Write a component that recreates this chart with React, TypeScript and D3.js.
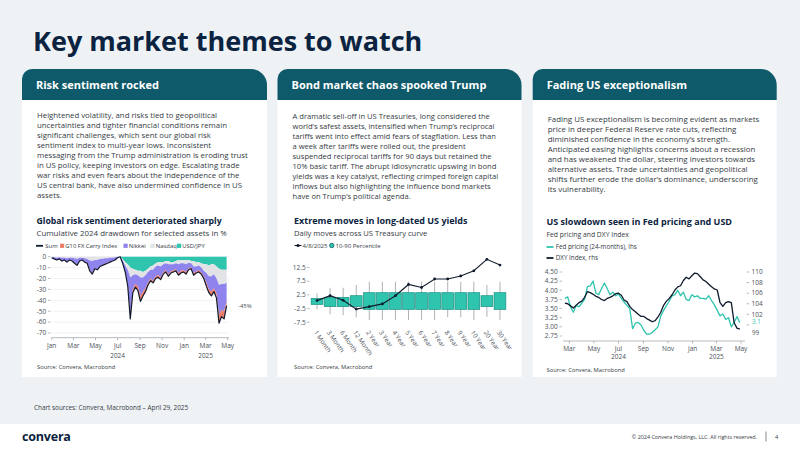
import React from "react";
import * as d3 from "d3";

const FONT = "'Open Sans', 'Noto Sans', Arial, sans-serif";
const NAVY = "#0b2340";
const HEADER_FILL = "#0f5a6a";
const BODY_TEXT = "#353b43";
const TICK_TEXT = "#4b5058";
const LINE_DARK = "#0f1b2d";
const TEAL = "#2ec4ae";
const PURPLE = "#8f83ee";
const SALMON = "#ec7d6c";
const LIGHT_GRAY = "#e2e3e6";

// ---- card copy ----
const cardTitles = ["Risk sentiment rocked", "Bond market chaos spooked Trump", "Fading US exceptionalism"];

const riskCopy = [
  "Heightened volatility, and risks tied to geopolitical",
  "uncertainties and tighter financial conditions remain",
  "significant challenges, which sent our global risk",
  "sentiment index to multi-year lows. Inconsistent",
  "messaging from the Trump administration is eroding trust",
  "in US policy, keeping investors on edge. Escalating trade",
  "war risks and even fears about the independence of the",
  "US central bank, have also undermined confidence in US",
  "assets.",
];

const bondCopy = [
  "A dramatic sell-off in US Treasuries, long considered the",
  "world\u2019s safest assets, intensified when Trump\u2019s reciprocal",
  "tariffs went into effect amid fears of stagflation. Less than",
  "a week after tariffs were rolled out, the president",
  "suspended reciprocal tariffs for 90 days but retained the",
  "10% basic tariff. The abrupt idiosyncratic upswing in bond",
  "yields was a key catalyst, reflecting crimped foreign capital",
  "inflows but also highlighting the influence bond markets",
  "have on Trump\u2019s political agenda.",
];

const fadingCopy = [
  "Fading US exceptionalism is becoming evident as markets",
  "price in deeper Federal Reserve rate cuts, reflecting",
  "diminished confidence in the economy\u2019s strength.",
  "Anticipated easing highlights concerns about a recession",
  "and has weakened the dollar, steering investors towards",
  "alternative assets. Trade uncertainties and geopolitical",
  "shifts further erode the dollar\u2019s dominance, underscoring",
  "its vulnerability.",
];

// ---- risk sentiment drawdown, weekly (Mondays from 1 Jan 2024), % ----
const riskDates = d3.timeMonday.range(new Date(2024, 0, 1), new Date(2025, 3, 29));
const usdJpy = [
  0, 0, 0, 0, 0, 0, 0, 0, 0, 0, 0, 0, 0, 0, 0, 0, 0, 0, 0, 0, 0, 0, 0, 0, 0, 0, 0, 0,
  -2, -5, -7, -10, -11, -12, -13, -13, -14, -13, -11, -9, -8, -6, -5, -5, -5, -4, -4, -5, -5, -4, -3,
  -3, -3, -3, -3, -4, -4, -5, -5, -6, -7, -7, -8, -7, -7, -9, -11, -12, -12, -12,
];
const nasdaq = [
  0, -0.5, -1, -0.5, -1, -1, -1.5, -1, -1, -1.5, -2, -1, -1, -1.5, -2, -3.5, -4, -3, -3, -2, -2, -1.5,
  -1.5, -1, -1, -0.5, 0, 0,
  -1.5, -3, -5, -9, -6, -4, -4, -6, -5, -4, -3, -3, -4, -3, -3, -4, -2, -2, -3, -2, -2, -2, -4, -3,
  -3, -4, -2.5, -2, -5, -4, -3, -4, -6, -8, -10, -11, -9, -11, -15, -13, -13, -12,
];
const nikkei = [
  -1, -1.5, -2, -1.5, -2.5, -2, -3, -2, -2.5, -4, -5.5, -3, -2, -3, -3.5, -8.5, -11, -7.5, -8.5, -6.5,
  -5.5, -5, -4, -3.5, -3, -2.5, -1, 0,
  -2.5, -5.5, -13, -33, -13, -9, -10, -17, -13, -12, -10, -8, -10, -9, -9, -10, -7.5, -6.5, -9, -6.5,
  -5.5, -5.5, -8, -7, -6.5, -7, -5, -4, -6, -4.5, -4.5, -4.5, -5, -9, -12, -14, -13, -14, -27, -24, -25, -17,
];
const g10Carry = [
  0, 0, 0, 0, -0.5, 0, -0.5, 0, -0.5, -0.5, -0.5, 0, 0, -0.5, -0.5, -1, -1, -0.5, -0.5, -0.5, -0.5,
  -0.5, -0.5, -0.5, 0, 0, 0, 0,
  0, -0.5, -2, -5, -3, -3, -4, -5, -4, -3, -2, -2, -2, -2, -2, -2, -1.5, -1.5, -2, -1.5, -1.5, -1.5,
  -2, -2, -1.5, -2, -1.5, -1, -2, -1.5, -1.5, -1.5, -2, -3, -3, -4, -3, -4, -8, -6, -7, -4,
];
const riskTicks = [0, -10, -20, -30, -40, -50, -60, -70];

// ---- Treasury curve daily moves, bp ----
const tenors = [
  "1 Month", "3 Month", "6 Month", "12 Month", "2 Year", "3 Year", "4 Year", "5 Year",
  "6 Year", "7 Year", "8 Year", "9 Year", "10 Year", "20 Year", "30 Year",
];
const pct10 = [-1.0, -1.8, -1.8, -1.8, -2.8, -2.8, -2.8, -2.8, -2.8, -2.8, -2.8, -2.8, -2.8, -1.8, -2.8];
const pct90 = [1.2, 1.6, 1.6, 2.2, 3.3, 3.3, 3.3, 3.3, 3.3, 3.3, 3.3, 3.3, 3.3, 2.2, 3.3];
const moveMin = [-2.8, -4.6, -4.9, -5.7, -6.7, -6.7, -6.7, -6.7, -6.7, -6.7, -5.7, -5.7, -6.7, -5.5, -6.7];
const moveMax = [3.1, 5.1, 5.1, 6.1, 7.3, 7.3, 7.3, 7.3, 7.3, 7.3, 7.3, 7.3, 7.3, 6.1, 7.3];
const apr8Moves = [0.4, 2.2, 0.5, -2.7, -1.8, -0.8, 2.2, 6.3, 5.2, 8.3, 8.3, 9.4, 11.3, 15.5, 13.4];
const bondTicks = [-7.5, -2.5, 2.5, 7.5, 12.5];

// ---- Fed pricing (lhs, %) and DXY (rhs), weekly from 19 Feb 2024 ----
const fedDates = d3.timeMonday.range(new Date(2024, 1, 19), new Date(2025, 3, 29));
const fedPricing = [
  3.78, 3.82, 3.55, 3.4, 3.58, 3.55, 3.65, 3.75, 4.1, 4.12, 4.25, 3.92, 3.88, 4.05, 4.2, 4.05, 3.88,
  3.95, 3.85, 3.9, 3.78, 3.68, 3.58, 3.5, 2.95, 3.1, 3.12, 3.05, 2.9, 2.8, 2.8, 2.85, 2.92, 3.0, 3.3,
  3.45, 3.58, 3.7, 3.85, 3.88, 4.0, 3.85, 3.95, 3.75, 3.72, 3.88, 3.82, 3.85, 3.78, 3.78, 3.76, 3.85,
  3.72, 3.6, 3.45, 3.3, 3.35, 3.2, 3.25, 3.0, 3.12, 3.28, 3.12,
];
const dxy = [
  104.1, 104.0, 103.6, 103.2, 103.7, 104.2, 104.5, 105.2, 106.3, 106.1, 105.8, 105.4, 105.2, 104.8,
  104.6, 105.0, 105.2, 105.5, 105.9, 106.0, 105.6, 104.7, 104.4, 103.5, 102.9, 102.5, 102.0, 101.6,
  101.6, 101.2, 100.9, 100.6, 100.8, 101.5, 102.4, 103.7, 104.5, 105.0, 105.7, 106.6, 107.2, 107.4,
  108.4, 109.0, 108.7, 109.3, 109.8, 109.7, 109.1, 108.5, 108.2, 107.7, 107.2, 106.8, 106.6, 104.2,
  103.5, 104.2, 104.4, 104.2, 100.4, 99.4, 99.2,
];
const fedTicks = [2.75, 3.0, 3.25, 3.5, 3.75, 4.0, 4.25, 4.5];
const dxyTicks = [100, 102, 104, 106, 108, 110];
// the 100 label sits under the latest DXY value label
const dxyTickLabels = [102, 104, 106, 108, 110];

function Card({
  x,
  w,
  title,
  lines,
  textY,
  textSize,
}: {
  x: number;
  w: number;
  title: string;
  lines: string[];
  textY: number;
  textSize: number;
}) {
  const top = 69;
  const headerBottom = 100;
  const bottom = 377;
  const rl = 10;
  const rr = 16;
  const header = `M${x},${headerBottom} V${top + rl} A${rl},${rl} 0 0 1 ${x + rl},${top} H${x + w - rr} A${rr},${rr} 0 0 1 ${x + w},${top + rr} V${headerBottom} Z`;
  return (
    <g>
      <rect x={x} y={headerBottom} width={w} height={bottom - headerBottom} fill="#ffffff" />
      <path d={header} fill={HEADER_FILL} />
      <text x={x + 14} y={89} fontSize={11} fontWeight={700} fill="#ffffff">
        {title}
      </text>
      <text fontSize={textSize} fill={BODY_TEXT}>
        {lines.map((l, i) => (
          <tspan key={i} x={x + 15} y={textY + i * 10}>
            {l}
          </tspan>
        ))}
      </text>
    </g>
  );
}

function ChartHeading({
  x,
  y,
  title,
  subtitle,
  titleSize,
  subtitleSize,
}: {
  x: number;
  y: number;
  title: string;
  subtitle: string;
  titleSize: number;
  subtitleSize: number;
}) {
  return (
    <g>
      <text x={x} y={y} fontSize={titleSize} fontWeight={700} fill={NAVY}>
        {title}
      </text>
      <text x={x} y={y + 12.3} fontSize={subtitleSize} fill={BODY_TEXT}>
        {subtitle}
      </text>
    </g>
  );
}

function RiskChart() {
  const x = d3.scaleTime().domain([new Date(2024, 0, 1), new Date(2025, 4, 1)]).range([51.7, 227.7]);
  const y = d3.scaleLinear().domain([-70, 0]).range([333, 256.7]);
  const rows = riskDates.map((date, i) => ({
    date,
    usdJpy: usdJpy[i],
    nasdaq: nasdaq[i],
    nikkei: nikkei[i],
    g10: g10Carry[i],
  }));
  const keys = ["usdJpy", "nasdaq", "nikkei", "g10"];
  const fills: Record<string, string> = { usdJpy: TEAL, nasdaq: LIGHT_GRAY, nikkei: PURPLE, g10: SALMON };
  const layers = d3.stack<any>().keys(keys)(rows);
  const area = d3
    .area<any>()
    .x((d) => x(d.data.date))
    .y0((d) => y(d[0]))
    .y1((d) => y(d[1]));
  const totals = rows.map((r) => r.usdJpy + r.nasdaq + r.nikkei + r.g10);
  const sumLine = d3
    .line<number>()
    .x((_, i) => x(riskDates[i]))
    .y((d) => y(d));
  const last = totals[totals.length - 1];
  const months = d3.timeMonth.range(new Date(2024, 0, 1), new Date(2025, 4, 2), 2);
  const axisY = 337.7;

  const legend = [
    { label: "G10 FX Carry Index", color: SALMON, x: 60 },
    { label: "Nikkei", color: PURPLE, x: 123.5 },
    { label: "Nasdaq", color: LIGHT_GRAY, x: 150.5 },
    { label: "USD/JPY", color: TEAL, x: 177 },
  ];

  return (
    <g>
      <ChartHeading
        x={36.5}
        y={223.5}
        titleSize={8.7}
        subtitleSize={7.9}
        title="Global risk sentiment deteriorated sharply"
        subtitle="Cumulative 2024 drawdown for selected assets in %"
      />
      <g fontSize={5.9} fill={BODY_TEXT}>
        <line x1={36} x2={43} y1={245.8} y2={245.8} stroke={LINE_DARK} strokeWidth={1.8} />
        <text x={45.3} y={248}>Sum</text>
        {legend.map((l) => (
          <g key={l.label}>
            <rect x={l.x} y={243.7} width={4.2} height={4.2} fill={l.color} />
            <text x={l.x + 5.3} y={248}>{l.label}</text>
          </g>
        ))}
      </g>
      {riskTicks.map((t) => (
        <g key={t}>
          <line x1={51.7} x2={229} y1={y(t)} y2={y(t)} stroke="#ececec" strokeWidth={0.7} />
          <line x1={48} x2={50.5} y1={y(t)} y2={y(t)} stroke="#9a9ea4" strokeWidth={0.7} />
          <text x={46.3} y={y(t) + 2.3} fontSize={6.5} textAnchor="end" fill={TICK_TEXT}>
            {t}
          </text>
        </g>
      ))}
      {layers.map((layer) => (
        <path key={layer.key} d={area(layer) || ""} fill={fills[layer.key]} />
      ))}
      <path d={sumLine(totals) || ""} fill="none" stroke={LINE_DARK} strokeWidth={1.2} strokeLinejoin="round" />
      <text x={238} y={y(last) + 2.2} fontSize={6} fill={TICK_TEXT}>
        {`${Math.round(last)}%`}
      </text>
      <line x1={51.7} x2={229} y1={axisY} y2={axisY} stroke="#9a9ea4" strokeWidth={0.7} />
      {months.map((m) => (
        <g key={+m}>
          <line x1={x(m)} x2={x(m)} y1={axisY} y2={axisY + 2.5} stroke="#9a9ea4" strokeWidth={0.7} />
          <text x={x(m)} y={348.4} fontSize={6.5} textAnchor="middle" fill={TICK_TEXT}>
            {d3.timeFormat("%b")(m)}
          </text>
        </g>
      ))}
      <text x={x(new Date(2024, 6, 1))} y={358.2} fontSize={6.5} textAnchor="middle" fill={TICK_TEXT}>2024</text>
      <text x={x(new Date(2025, 2, 1))} y={358.2} fontSize={6.5} textAnchor="middle" fill={TICK_TEXT}>2025</text>
      <text x={37} y={369} fontSize={5.8} fill={BODY_TEXT}>Source: Convera, Macrobond</text>
    </g>
  );
}

function BondChart() {
  const x = d3.scaleBand().domain(tenors).range([310.5, 506.5]).paddingInner(0.1).paddingOuter(0.05);
  const y = d3.scaleLinear().domain([-10, 17.5]).range([329.1, 253.8]);
  const cx = (t: string) => (x(t) ?? 0) + x.bandwidth() / 2;
  const line = d3
    .line<number>()
    .x((_, i) => cx(tenors[i]))
    .y((d) => y(d));

  return (
    <g>
      <ChartHeading
        x={294}
        y={223.5}
        titleSize={9}
        subtitleSize={7.6}
        title="Extreme moves in long-dated US yields"
        subtitle="Daily moves across US Treasury curve"
      />
      <g fontSize={6} fill={BODY_TEXT}>
        <line x1={294.5} x2={301.5} y1={245.5} y2={245.5} stroke={LINE_DARK} strokeWidth={1.1} />
        <circle cx={298} cy={245.5} r={1.5} fill={LINE_DARK} />
        <text x={302.5} y={247.7}>4/8/2025</text>
        <circle cx={331.8} cy={245.5} r={2.2} fill={TEAL} stroke="#0f5a6a" strokeWidth={0.8} />
        <text x={335.5} y={247.7}>10-90 Percentile</text>
      </g>
      {bondTicks.map((t) => (
        <g key={t}>
          <line x1={307} x2={309.5} y1={y(t)} y2={y(t)} stroke="#9a9ea4" strokeWidth={0.7} />
          <text x={305.6} y={y(t) + 2.3} fontSize={6.5} textAnchor="end" fill={TICK_TEXT}>
            {t}
          </text>
        </g>
      ))}
      {tenors.map((t, i) => (
        <line key={t} x1={cx(t)} x2={cx(t)} y1={y(moveMax[i])} y2={y(moveMin[i])} stroke="#8c9096" strokeWidth={0.7} />
      ))}
      {tenors.map((t, i) => (
        <rect
          key={t}
          x={x(t)}
          y={y(pct90[i])}
          width={x.bandwidth()}
          height={y(pct10[i]) - y(pct90[i])}
          fill={TEAL}
          stroke="#1a8f82"
          strokeWidth={0.7}
        />
      ))}
      <path d={line(apr8Moves) || ""} fill="none" stroke={LINE_DARK} strokeWidth={1.1} />
      {apr8Moves.map((v, i) => (
        <circle key={i} cx={cx(tenors[i])} cy={y(v)} r={1.4} fill={LINE_DARK} />
      ))}
      {tenors.map((t) => (
        <text
          key={t}
          transform={`translate(${cx(t) - 3.5},${332.5}) rotate(55)`}
          fontSize={6.4}
          fill={TICK_TEXT}
        >
          {t}
        </text>
      ))}
      <text x={294} y={369} fontSize={5.8} fill={BODY_TEXT}>Source: Convera, Macrobond</text>
    </g>
  );
}

function FedChart() {
  const x = d3.scaleTime().domain([new Date(2024, 2, 1), new Date(2025, 4, 1)]).range([569.3, 741]);
  const yL = d3.scaleLinear().domain([2.75, 4.5]).range([336, 272]);
  const yR = d3.scaleLinear().domain([99, 110]).range([330.2, 272]);
  const fedLine = d3
    .line<number>()
    .x((_, i) => x(fedDates[i]))
    .y((d) => yL(d));
  const dxyLine = d3
    .line<number>()
    .x((_, i) => x(fedDates[i]))
    .y((d) => yR(d));
  const months = d3.timeMonth.range(new Date(2024, 2, 1), new Date(2025, 4, 2), 2);
  const axisY = 341;
  const lastFed = fedPricing[fedPricing.length - 1];
  const lastDxy = dxy[dxy.length - 1];

  return (
    <g>
      <ChartHeading
        x={546.5}
        y={225}
        titleSize={9}
        subtitleSize={6.8}
        title="US slowdown seen in Fed pricing and USD"
        subtitle="Fed pricing and DXY Index"
      />
      <g fontSize={6.3} fill={BODY_TEXT}>
        <line x1={546.5} x2={553.5} y1={247} y2={247} stroke={TEAL} strokeWidth={1.8} />
        <text x={555.7} y={249.3}>Fed pricing (24-months), lhs</text>
        <line x1={546.5} x2={553.5} y1={258} y2={258} stroke={LINE_DARK} strokeWidth={1.8} />
        <text x={555.7} y={260.3}>DXY Index, rhs</text>
      </g>
      {fedTicks.map((t) => (
        <g key={t}>
          <line x1={559.5} x2={562} y1={yL(t)} y2={yL(t)} stroke="#9a9ea4" strokeWidth={0.7} />
          <text x={557.6} y={yL(t) + 2.3} fontSize={6.5} textAnchor="end" fill={TICK_TEXT}>
            {t.toFixed(2)}
          </text>
        </g>
      ))}
      {dxyTicks.map((t) => (
        <line key={t} x1={746.5} x2={749} y1={yR(t)} y2={yR(t)} stroke="#9a9ea4" strokeWidth={0.7} />
      ))}
      {dxyTickLabels.map((t) => (
        <text key={t} x={751.5} y={yR(t) + 2.3} fontSize={6.5} fill={TICK_TEXT}>
          {t}
        </text>
      ))}
      <path d={fedLine(fedPricing) || ""} fill="none" stroke={TEAL} strokeWidth={1.3} strokeLinejoin="round" />
      <path d={dxyLine(dxy) || ""} fill="none" stroke={LINE_DARK} strokeWidth={1.3} strokeLinejoin="round" />
      <text x={752} y={yL(lastFed) + 1.8} fontSize={6.2} fill={TEAL}>
        {lastFed.toFixed(1)}
      </text>
      <text x={752} y={yR(lastDxy) + 5.8} fontSize={6.2} fill={TICK_TEXT}>
        {lastDxy.toFixed(0)}
      </text>
      <line x1={563} x2={745} y1={axisY} y2={axisY} stroke="#9a9ea4" strokeWidth={0.7} />
      {months.map((m) => (
        <g key={+m}>
          <line x1={x(m)} x2={x(m)} y1={axisY} y2={axisY + 2.5} stroke="#9a9ea4" strokeWidth={0.7} />
          <text x={x(m)} y={350.6} fontSize={6.5} textAnchor="middle" fill={TICK_TEXT}>
            {d3.timeFormat("%b")(m)}
          </text>
        </g>
      ))}
      <text x={x(new Date(2024, 6, 1))} y={359.2} fontSize={6.5} textAnchor="middle" fill={TICK_TEXT}>2024</text>
      <text x={x(new Date(2025, 2, 1))} y={359.2} fontSize={6.5} textAnchor="middle" fill={TICK_TEXT}>2025</text>
      <text x={546.5} y={372} fontSize={5.8} fill={BODY_TEXT}>Source: Convera, Macrobond</text>
    </g>
  );
}

export default function App() {
  return (
    <svg
      width={800}
      height={450}
      viewBox="0 0 800 450"
      style={{ position: "fixed", left: 0, top: 0, display: "block" }}
      fontFamily={FONT}
    >
      <rect width={800} height={450} fill="#eef2f4" />
      <text x={33} y={51} fontSize={27} fontWeight={700} fill={NAVY}>
        Key market themes to watch
      </text>

      <Card x={22} w={245} title={cardTitles[0]} lines={riskCopy} textY={118} textSize={7.8} />
      <Card x={277.5} w={244} title={cardTitles[1]} lines={bondCopy} textY={119} textSize={7.6} />
      <Card x={532.7} w={244} title={cardTitles[2]} lines={fadingCopy} textY={121.5} textSize={7.9} />

      <RiskChart />
      <BondChart />
      <FedChart />

      <text x={34} y={410} fontSize={6.4} fill={BODY_TEXT}>
        Chart sources: Convera, Macrobond – April 29, 2025
      </text>

      <rect x={0} y={424} width={800} height={26} fill="#ffffff" />
      <text x={22} y={441} fontSize={12.5} fontWeight={700} fill={NAVY} letterSpacing={-0.2}>
        convera
      </text>
      <text x={757} y={439} fontSize={5.4} textAnchor="end" fill={BODY_TEXT}>
        © 2024 Convera Holdings, LLC. All rights reserved.
      </text>
      <line x1={766} x2={766} y1={431.5} y2={441.5} stroke="#555" strokeWidth={0.7} />
      <text x={775} y={439} fontSize={5.8} fill={BODY_TEXT}>4</text>
    </svg>
  );
}
